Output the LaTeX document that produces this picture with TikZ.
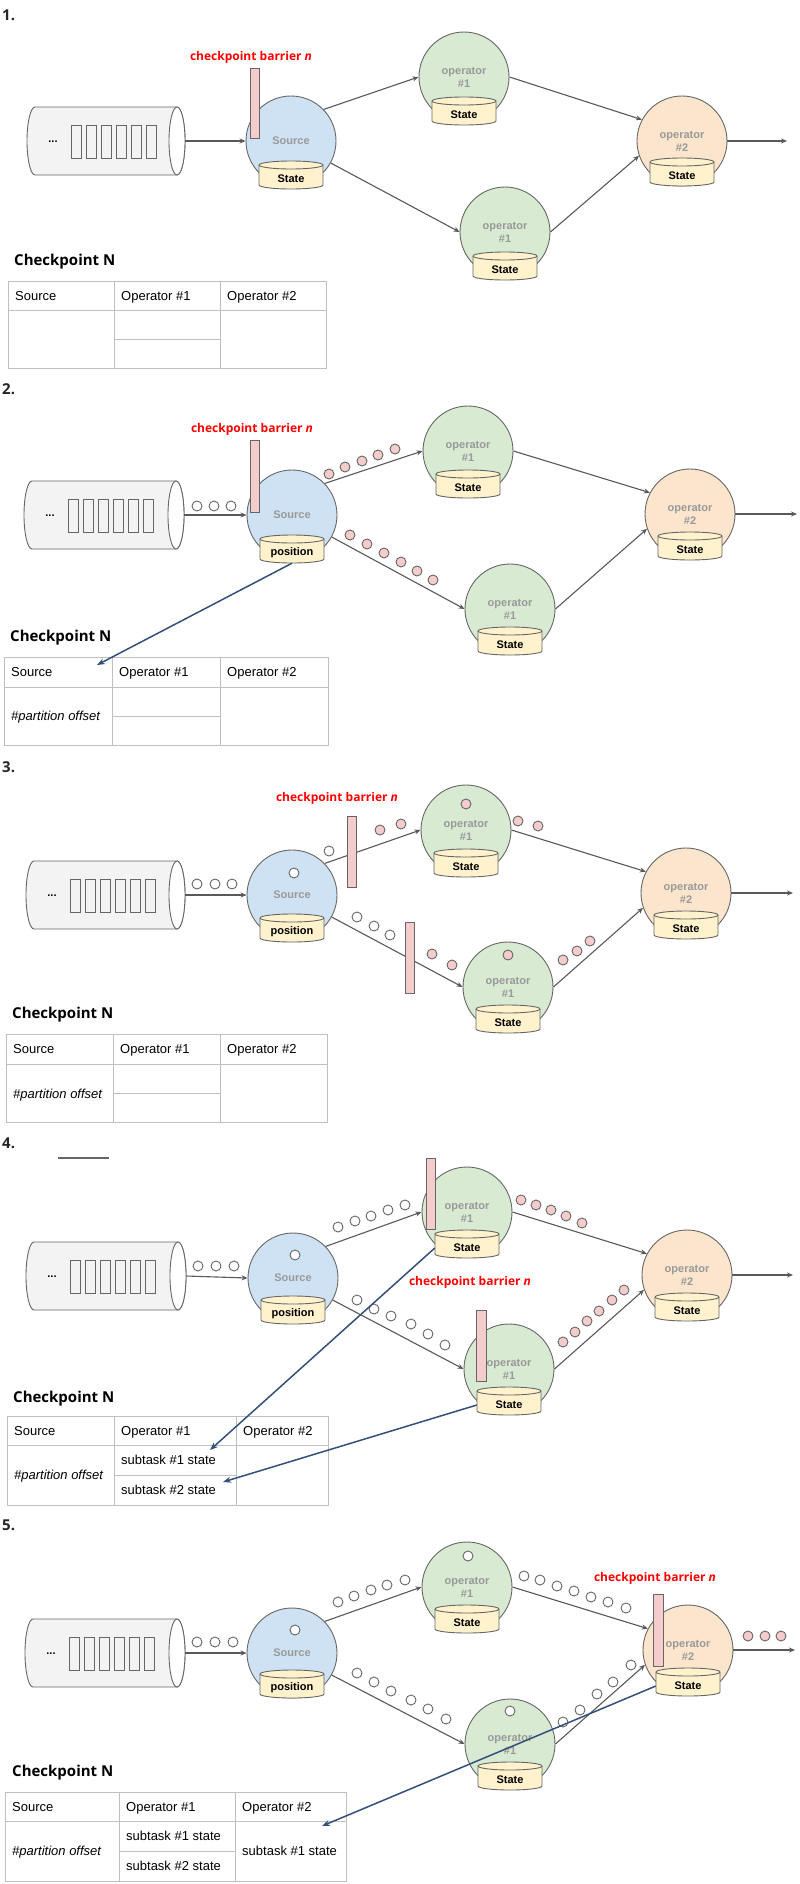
\documentclass[tikz,border=0pt]{standalone}
\usepackage{fontspec}
\setmainfont{Liberation Sans}
\newfontfamily\headfont{Open Sans}
\usetikzlibrary{arrows.meta,calc}
\definecolor{circgray}{HTML}{666666}
\definecolor{arrgray}{HTML}{595959}
\definecolor{txtgray}{HTML}{999999}
\definecolor{srcfill}{HTML}{CFE2F3}
\definecolor{opafill}{HTML}{D9EAD3}
\definecolor{opbfill}{HTML}{FCE5CD}
\definecolor{stfill}{HTML}{FFF2CC}
\definecolor{pinkfill}{HTML}{F4CCCC}
\definecolor{qfill}{HTML}{F3F3F3}
\definecolor{bluearr}{HTML}{34507A}
\definecolor{tabline}{HTML}{BFBFBF}
\definecolor{redlab}{HTML}{FF0000}
\tikzset{
 opc/.style={circle, draw=circgray, line width=0.9pt, minimum size=90pt, inner sep=0pt, font=\bfseries\fontsize{11}{13}\selectfont, text=txtgray, align=center},
 srcc/.style={opc, fill=srcfill},
 op1c/.style={opc, fill=opafill},
 op2c/.style={opc, fill=opbfill},
 cylbody/.style={draw=circgray, line width=0.9pt, fill=stfill},
 cylline/.style={draw=circgray, line width=0.9pt},
 sttext/.style={minimum width=64pt, minimum height=20pt, inner sep=0pt, font=\bfseries\fontsize{11}{13}\selectfont, text=black},
 flow/.style={draw=arrgray, line width=1.1pt, -{Stealth[length=6pt,width=5pt]}},
 blueflow/.style={draw=bluearr, line width=1.5pt, -{Stealth[length=8pt,width=6pt]}},
 barrierbox/.style={draw=circgray, line width=0.9pt, fill=pinkfill},
 wdot/.style={draw=circgray, line width=0.9pt, fill=white},
 pdot/.style={draw=circgray, line width=0.9pt, fill=pinkfill},
 qbody/.style={draw=circgray, line width=0.9pt, fill=qfill},
 tline/.style={draw=tabline, line width=1pt},
 celltext/.style={anchor=base west, inner sep=0pt, font=\fontsize{13}{15}\selectfont},
 celltexti/.style={anchor=base west, inner sep=0pt, font=\itshape\fontsize{13}{15}\selectfont},
 headtext/.style={anchor=base west, inner sep=0pt, font=\headfont\bfseries\fontsize{15}{18}\selectfont},
 numtext/.style={anchor=base west, inner sep=0pt, font=\headfont\bfseries\fontsize{15}{18}\selectfont, text=black!85},
 barlab/.style={anchor=base, inner sep=0pt, font=\headfont\bfseries\fontsize{12}{14}\selectfont, text=redlab},
}
% state cylinder: name, cx, ytop, text
\newcommand\statecyl[4]{%
 \draw[cylbody] ({#2-32},{#3+4}) -- ({#2-32},{#3+24}) arc[start angle=180,end angle=360,x radius=32pt,y radius=4pt] -- ({#2+32},{#3+4}) arc[start angle=0,end angle=180,x radius=32pt,y radius=4pt] -- cycle;
 \draw[cylline] ({#2-32},{#3+4}) arc[start angle=180,end angle=360,x radius=32pt,y radius=4pt];
 \node[sttext] (#1) at (#2,{#3+18}) {#4};}
% queue: name, xl, xr, yc
\newcommand\qcyl[4]{%
 \node[inner sep=0pt, minimum width={(#3-(#2))*1pt}, minimum height=68pt] (#1) at ({(#2+#3)/2},#4) {};
 \draw[qbody] ({#2+8},{#4-34}) -- ({#3-8},{#4-34}) arc[start angle=90,end angle=-90,x radius=8pt,y radius=34pt] -- ({#2+8},{#4+34}) arc[start angle=270,end angle=90,x radius=8pt,y radius=34pt] -- cycle;
 \draw[qbody, fill=white] ({#3-8},#4) ellipse[x radius=8pt, y radius=34pt];
 \foreach \i in {0,...,5} \draw[cylline] ({#2+44+15*\i},{#4-16}) rectangle ({#2+54+15*\i},{#4+17});
 \node[font=\bfseries\fontsize{11}{13}\selectfont, inner sep=0pt] (#1dots) at ({#2+26},{#4+1}) {...};}
% table: prefix, x0,x1,x2,x3, y0,y1,y2,y3
\newcommand\cptable[9]{%
 \draw[tline] (#2,#6) rectangle (#5,#9);
 \draw[tline] (#2,#7) -- (#5,#7);
 \draw[tline] (#3,#6) -- (#3,#9);
 \draw[tline] (#4,#6) -- (#4,#9);
 \draw[tline] (#3,#8) -- (#4,#8);
 \node[celltext] (#1s) at ({#2+7},{(#6+#7)/2+4.7}) {Source};
 \node[celltext] (#1a) at ({#3+7},{(#6+#7)/2+4.7}) {Operator \#1};
 \node[celltext] (#1b) at ({#4+7},{(#6+#7)/2+4.7}) {Operator \#2};}
\begin{document}
\begin{tikzpicture}[x=1pt,y=-1pt]
\useasboundingbox (0,0) rectangle (800,1884);
\fill[white] (0,0) rectangle (800,1884);

% ================= Panel 1
\node[numtext] (n1) at (2,21) {1.};
\qcyl{q1}{27}{185}{141}
\node[srcc] (s1) at (291,141) {Source};
\node[op1c] (a1) at (464,77) {operator\\\#1};
\node[op1c] (b1) at (505,232) {operator\\\#1};
\node[op2c] (c1) at (682,141) {operator\\\#2};
\statecyl{s1st}{291}{161}{State}
\statecyl{a1st}{464}{97}{State}
\statecyl{b1st}{505}{252}{State}
\statecyl{c1st}{682}{158}{State}
\coordinate (o1) at (787,141);
\draw[flow] (q1.east) -- (s1.west);
\draw[flow] (s1.44) -- (a1.west);
\draw[flow] (s1.-29) -- (b1.west);
\draw[flow] (a1.east) -- (c1.152);
\draw[flow] (b1.east) -- (c1.199);
\draw[flow] (c1.east) -- (o1);
\draw[barrierbox] (250,68) rectangle (259,138);
\node[barlab] (l1) at (251,60.5) {checkpoint barrier \textit{n}};
\node[headtext] (h1) at (14,265) {Checkpoint N};
\cptable{t1}{8}{114}{220}{326}{281}{310}{339}{368}

% ================= Panel 2
\node[numtext] (n2) at (2,394) {2.};
\qcyl{q2}{24}{184}{515}
\node[srcc] (s2) at (292,515) {Source};
\node[op1c] (a2) at (468,451) {operator\\\#1};
\node[op1c] (b2) at (510,609) {operator\\\#1};
\node[op2c] (c2) at (690,514) {operator\\\#2};
\statecyl{s2st}{292}{535}{position}
\statecyl{a2st}{468}{470}{State}
\statecyl{b2st}{510}{627}{State}
\statecyl{c2st}{690}{532}{State}
\coordinate (o2) at (797,514);
\draw[flow] (q2.east) -- (s2.west);
\draw[flow] (s2.44) -- (a2.west);
\draw[flow] (s2.-29) -- (b2.west);
\draw[flow] (a2.east) -- (c2.152);
\draw[flow] (b2.east) -- (c2.199);
\draw[flow] (c2.east) -- (o2);
\draw[barrierbox] (250,440) rectangle (259,512);
\foreach \x/\y in {197/506,214/506,231/506} \draw[wdot] (\x,\y) circle[radius=5pt];
\foreach \x/\y in {329/474,345/467,362/461,378/455,395/449,350/535,367/544,384/553,401/562,417/571,433/580} \draw[pdot] (\x,\y) circle[radius=5pt];
\node[barlab] (l2) at (252,432.5) {checkpoint barrier \textit{n}};
\node[headtext] (h2) at (10,641) {Checkpoint N};
\cptable{t2}{4}{112}{220}{328}{657}{687}{716}{745}
\node[celltexti] (t2p) at (11,720.7) {\#partition offset};
\coordinate (e2) at (97,665);
\draw[blueflow] (s2st.south) -- (e2);

% ================= Panel 3
\node[numtext] (n3) at (2,772.5) {3.};
\qcyl{q3}{26}{185}{895}
\node[srcc] (s3) at (292,895) {Source};
\node[op1c] (a3) at (466,830) {operator\\\#1};
\node[op1c] (b3) at (508,987) {operator\\\#1};
\node[op2c] (c3) at (686,893) {operator\\\#2};
\statecyl{s3st}{292}{914}{position}
\statecyl{a3st}{466}{849}{State}
\statecyl{b3st}{508}{1005}{State}
\statecyl{c3st}{686}{911}{State}
\coordinate (o3) at (793,893);
\draw[flow] (q3.east) -- (s3.west);
\draw[flow] (s3.44) -- (a3.west);
\draw[flow] (s3.-29) -- (b3.west);
\draw[flow] (a3.east) -- (c3.152);
\draw[flow] (b3.east) -- (c3.199);
\draw[flow] (c3.east) -- (o3);
\draw[barrierbox] (347,816) rectangle (356,887);
\draw[barrierbox] (405,922) rectangle (414,993);
\foreach \x/\y in {197/884,215/884,232/884,294/873,329/851,357/917,374/926,390/935} \draw[wdot] (\x,\y) circle[radius=5pt];
\foreach \x/\y in {380/830,401/824,466/804,518/821,538/826,432/954,452/965,508/955,563/960,577/951,590/941} \draw[pdot] (\x,\y) circle[radius=5pt];
\node[barlab] (l3) at (337,801.5) {checkpoint barrier \textit{n}};
\node[headtext] (h3) at (12,1018) {Checkpoint N};
\cptable{t3}{6}{113}{220}{327}{1034}{1064}{1093}{1122}
\node[celltexti] (t3p) at (13,1098.2) {\#partition offset};

% ================= Panel 4
\node[numtext] (n4) at (2,1148.5) {4.};
\draw[draw=circgray, line width=1.1pt] (58,1158) -- (109,1158);
\qcyl{q4}{26}{186}{1276}
\node[srcc] (s4) at (293,1278) {Source};
\node[op1c] (a4) at (467,1212) {operator\\\#1};
\node[op1c] (b4) at (509,1369) {operator\\\#1};
\node[op2c] (c4) at (687,1275) {operator\\\#2};
\statecyl{s4st}{293}{1296}{position}
\statecyl{a4st}{467}{1230}{State}
\statecyl{b4st}{509}{1387}{State}
\statecyl{c4st}{687}{1293}{State}
\coordinate (o4) at (793,1275);
\draw[flow] (q4.east) -- (s4.west);
\draw[flow] (s4.44) -- (a4.west);
\draw[flow] (s4.-29) -- (b4.west);
\draw[flow] (a4.east) -- (c4.152);
\draw[flow] (b4.east) -- (c4.199);
\draw[flow] (c4.east) -- (o4);
\draw[barrierbox] (426,1158) rectangle (435,1229);
\draw[barrierbox] (476,1310) rectangle (486,1381);
\foreach \x/\y in {198/1266,216/1266,234/1266,295/1255,338/1227,355/1221,371/1216,388/1210,405/1205,357/1300,374/1309,391/1316,411/1324,428/1334,445/1345} \draw[wdot] (\x,\y) circle[radius=5pt];
\foreach \x/\y in {521/1200,536/1205,551/1210,566/1216,582/1223,563/1342,575/1332,587/1321,599/1311,612/1300,624/1290} \draw[pdot] (\x,\y) circle[radius=5pt];
\node[barlab] (l4) at (470,1285.5) {checkpoint barrier \textit{n}};
\node[headtext] (h4) at (13,1402) {Checkpoint N};
\cptable{t4}{7}{114}{236}{328}{1416}{1445}{1475}{1505}
\node[celltexti] (t4p) at (14,1479.7) {\#partition offset};
\node[celltext] (t4c) at (121,1464.7) {subtask \#1 state};
\node[celltext] (t4d) at (121,1494.7) {subtask \#2 state};
\coordinate (e4a) at (210,1450);
\coordinate (e4b) at (223,1482);
\draw[blueflow] (a4st.west) -- (e4a);
\draw[blueflow] (b4st.west) -- (e4b);

% ================= Panel 5
\node[numtext] (n5) at (2,1530.5) {5.};
\qcyl{q5}{25}{185}{1653}
\node[srcc] (s5) at (292,1653) {Source};
\node[op1c] (a5) at (467,1587) {operator\\\#1};
\node[op1c] (b5) at (510,1744) {operator\\\#1};
\node[op2c] (c5) at (688,1650) {operator\\\#2};
\statecyl{s5st}{292}{1670}{position}
\statecyl{a5st}{467}{1605}{State}
\statecyl{b5st}{510}{1762}{State}
\statecyl{c5st}{688}{1668}{State}
\coordinate (o5) at (795,1650);
\draw[flow] (q5.east) -- (s5.west);
\draw[flow] (s5.44) -- (a5.west);
\draw[flow] (s5.-29) -- (b5.west);
\draw[flow] (a5.east) -- (c5.152);
\draw[flow] (b5.east) -- (c5.199);
\draw[flow] (c5.east) -- (o5);
\draw[barrierbox] (653,1594) rectangle (663,1666);
\foreach \x/\y in {197/1642,215/1642,233/1642,295/1630,338/1602,354/1596,371/1590,387/1585,405/1580,468/1556,524/1576,540/1580,557/1586,574/1591,591/1597,608/1602,626/1608,357/1673,374/1682,391/1691,411/1700,428/1709,446/1719,510/1711,563/1722,580/1710,597/1694,613/1682,631/1665} \draw[wdot] (\x,\y) circle[radius=5pt];
\foreach \x/\y in {748/1636,765/1636,781/1636} \draw[pdot] (\x,\y) circle[radius=5pt];
\node[barlab] (l5) at (655,1581.5) {checkpoint barrier \textit{n}};
\node[headtext] (h5) at (12,1776) {Checkpoint N};
\cptable{t5}{5}{119}{235}{346}{1792}{1821}{1851}{1881}
\node[celltexti] (t5p) at (12,1855.7) {\#partition offset};
\node[celltext] (t5c) at (126,1840.7) {subtask \#1 state};
\node[celltext] (t5d) at (126,1870.7) {subtask \#2 state};
\node[celltext] (t5e) at (242,1855.7) {subtask \#1 state};
\coordinate (e5) at (322,1826);
\draw[blueflow] (c5st.west) -- (e5);
\end{tikzpicture}
\end{document}
